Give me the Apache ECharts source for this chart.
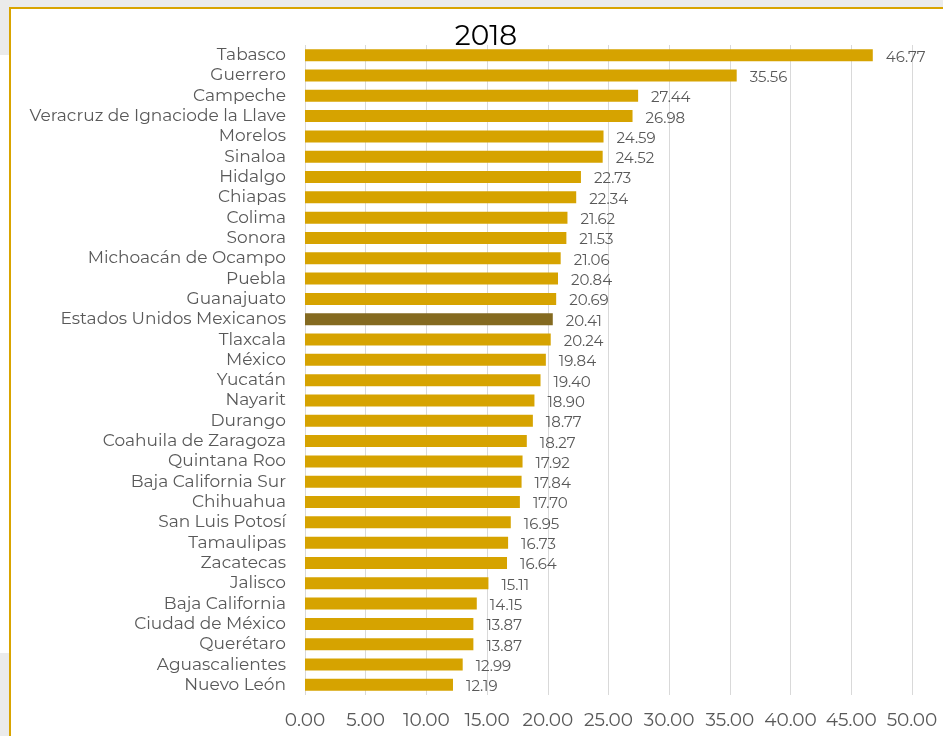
<!DOCTYPE html>
<html><head><meta charset="utf-8">
<script src="https://cdn.jsdelivr.net/npm/echarts@6/dist/echarts.min.js"></script>
<style>html,body{margin:0;padding:0;background:#fff}#c{width:943px;height:736px}</style>
</head><body><div id="c"></div>
<script>
const categories = ["Tabasco","Guerrero","Campeche","Veracruz de Ignaciode la Llave","Morelos","Sinaloa","Hidalgo","Chiapas","Colima","Sonora","Michoacán de Ocampo","Puebla","Guanajuato","Estados Unidos Mexicanos","Tlaxcala","México","Yucatán","Nayarit","Durango","Coahuila de Zaragoza","Quintana Roo","Baja California Sur","Chihuahua","San Luis Potosí","Tamaulipas","Zacatecas","Jalisco","Baja California","Ciudad de México","Querétaro","Aguascalientes","Nuevo León"];
const values = [46.77,35.56,27.44,26.98,24.59,24.52,22.73,22.34,21.62,21.53,21.06,20.84,20.69,20.41,20.24,19.84,19.40,18.90,18.77,18.27,17.92,17.84,17.70,16.95,16.73,16.64,15.11,14.15,13.87,13.87,12.99,12.19];
const highlight = "Estados Unidos Mexicanos";
const axisTicks = [0,5,10,15,20,25,30,35,40,45,50];
const titleText = "2018";

const chart = echarts.init(document.getElementById('c'));
const font = "Montserrat, 'DejaVu Sans', sans-serif";
chart.setOption({
  animation:false,
  backgroundColor:'#fff',
  graphic:[
    {type:'rect',shape:{x:0,y:0,width:943,height:8},style:{fill:'#ebebeb'},z:-1},
    {type:'rect',shape:{x:0,y:0,width:10,height:55},style:{fill:'#ebebeb'},z:-1},
    {type:'rect',shape:{x:0,y:653,width:10,height:83},style:{fill:'#ebebeb'},z:-1},
    {type:'rect',shape:{x:9,y:7,width:940,height:2},style:{fill:'#d9a400'},z:-1},
    {type:'rect',shape:{x:9,y:7,width:2,height:740},style:{fill:'#d9a400'},z:-1}
  ],
  title:{text:titleText,left:481,top:18,textAlign:'center',textStyle:{fontFamily:font,fontSize:28,fontWeight:'normal',color:'#000'}},
  grid:{left:305,right:31,top:45,bottom:41,containLabel:false},
  xAxis:{type:'value',min:axisTicks[0],max:axisTicks[axisTicks.length-1],interval:5,
    axisLine:{show:false},axisTick:{show:false},
    splitLine:{lineStyle:{color:'#d9d9d9',width:1}},
    axisLabel:{margin:16,fontFamily:font,fontSize:18.5,color:'#595959',formatter:v=>v.toFixed(2)}},
  yAxis:{type:'category',inverse:true,data:categories,
    axisLine:{show:false},axisTick:{show:false},
    axisLabel:{interval:0,margin:19,fontFamily:font,fontSize:17,color:'#595959'}},
  series:[{type:'bar',barWidth:12,
    data:values.map((v,i)=>({value:v,itemStyle:{color:categories[i]===highlight?'#846a20':'#d6a300'}})),
    label:{show:true,position:'right',distance:13,offset:[0,2],fontFamily:font,fontSize:15,color:'#595959',formatter:p=>p.value.toFixed(2)}}]
});
</script></body></html>
